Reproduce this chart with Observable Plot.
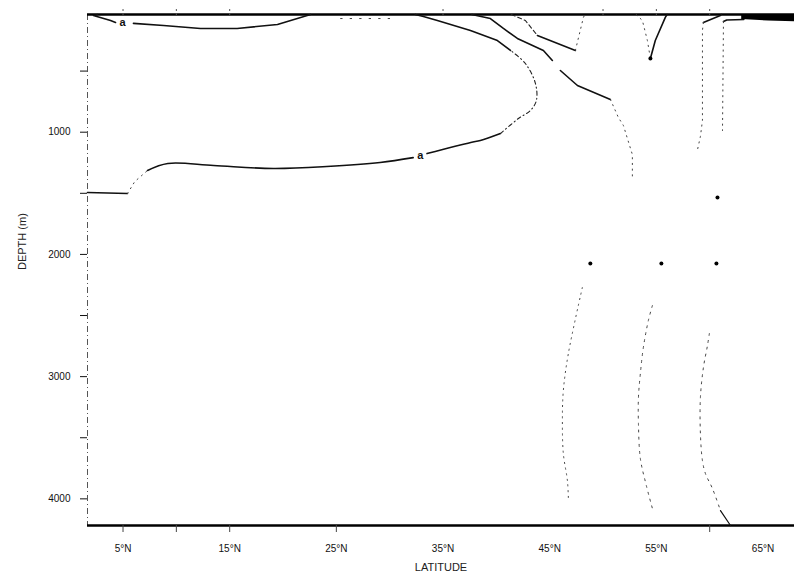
<!DOCTYPE html>
<html>
<head>
<meta charset="utf-8">
<script src="https://cdn.jsdelivr.net/npm/d3@7"></script>
<script src="https://cdn.jsdelivr.net/npm/@observablehq/plot@0.6"></script>
<style>
  html, body { margin: 0; padding: 0; background: #fff; }
  #chart svg { display: block; }
</style>
</head>
<body>
<div id="chart"></div>
<script>
// Section extent: latitude (°N) and depth (m)
const latExtent = [1.67, 67.95];
const depthExtent = [37, 4218];

// Axis ticks
const depthTicks = [500, 1000, 1500, 2000, 2500, 3000, 3500, 4000];
const latLabels = [5, 15, 25, 35, 45, 55, 65];
const latTicksBottom = [5, 10, 15, 25, 60];
const stationTicks = [5, 10, 15, 35, 50, 55, 60];

// Contours, as [latitude, depth] pairs
const surfaceA1 = [[2.6, 37], [2.23, 45], [3.83, 86], [4.3, 102]];
const surfaceA2 = [[5.98, 110], [8.8, 127], [12.26, 151], [15.7, 151], [19.48, 119], [22.58, 37]];
const surfaceDots = [[25.4, 70], [30.6, 70]];

const deepAWest = [[1.67, 1494], [5.42, 1502]];
const deepARise = [[5.42, 1502], [6.1, 1404], [7.3, 1313]];
const deepAMain = [[7.3, 1313], [9.2, 1256], [13.5, 1273], [19.1, 1297], [24.1, 1281], [29.1, 1248], [32.2, 1208]];
const deepAEast = [[33.5, 1175], [37.6, 1084], [38.5, 1068], [40.38, 1011]];
const deepABulge = [[40.38, 1011], [42.07, 888], [43.19, 822], [43.75, 741], [43.66, 601], [42.72, 438], [41.32, 331]];
const lineA = [[41.32, 331], [40.1, 250], [37.57, 168], [34.47, 86], [33.16, 53], [32.4, 37]];

const lineB1 = [[37.7, 37], [39.44, 70], [40.66, 151], [41.97, 233], [44.41, 331], [45.25, 413]];
const lineB2 = [[46.0, 495], [47.6, 618], [50.69, 732]];
const lineB3 = [[50.69, 732], [51.44, 880], [51.91, 945], [52.75, 1183], [52.75, 1363]];

const lineC1 = [[41.4, 37], [42.72, 86], [43.85, 209]];
const lineC2 = [[43.85, 209], [47.41, 331]];
const lineC3 = [[47.41, 331], [48.16, 61], [48.3, 37]];

const notchWest = [[53.1, 37], [53.69, 86], [54.16, 250], [54.44, 397]];
const notchEast = [[54.44, 397], [54.9, 250], [55.84, 61], [56.0, 37]];

const lineE = [[59.41, 102], [61.0, 45], [61.1, 37]];
const dropE = [[59.41, 102], [59.32, 168], [59.32, 741], [59.32, 904], [59.13, 1035], [58.84, 1150]];
const lineF = [[61.29, 94], [61.6, 82], [63.2, 78]];
const dropF = [[61.29, 94], [61.25, 500], [61.2, 986]];
const shelfLat = [63.0, 65.5, 67.95];
const shelfDepth = [78, 90, 97];

const deep1 = [[48.06, 2271], [46.75, 2811], [46.28, 3114], [46.19, 3359], [46.28, 3630], [46.66, 3850], [46.75, 3989]];
const deep2 = [[54.63, 2418], [54.25, 2541], [53.78, 2762], [53.5, 2975], [53.32, 3171], [53.32, 3384], [53.5, 3670], [54.06, 3891], [54.63, 4079]];
const deep3 = [[59.97, 2647], [59.79, 2746], [59.41, 2926], [59.13, 3171], [59.13, 3466], [59.32, 3687], [59.6, 3793], [60.26, 3916], [61.01, 4096]];
const deep3Foot = [[61.01, 4096], [61.95, 4218]];

const labelMarks = [[48.81, 2074], [55.47, 2074], [60.63, 2074], [60.73, 1534], [54.44, 397]];
const contourLabels = [[4.95, 102, "a"], [32.88, 1191, "a"]];

const shelf = shelfLat.map((lat, i) => ({lat, top: depthExtent[0], bottom: shelfDepth[i]}));

const X = d => d[0], Y = d => d[1];
const solid = (data, extra = {}) => Plot.line(data, {x: X, y: Y, stroke: "#111", strokeWidth: 1.6, ...extra});
const dotted = (data, extra = {}) => Plot.line(data, {x: X, y: Y, stroke: "#444", strokeWidth: 1, strokeDasharray: "1.2,4.5", ...extra});
const dashed = (data, extra = {}) => Plot.line(data, {x: X, y: Y, stroke: "#222", strokeWidth: 1.1, strokeDasharray: "4,3,1,3", ...extra});

const chart = Plot.plot({
  width: 794,
  height: 581,
  marginLeft: 87,
  marginRight: 0,
  marginTop: 14,
  marginBottom: 56,
  style: {fontFamily: "'Liberation Sans', Arial, sans-serif", fontSize: "10px", background: "#fff", color: "#111"},
  x: {domain: latExtent},
  y: {domain: depthExtent, reverse: true},
  marks: [
    // frame
    Plot.ruleX([latExtent[0]], {stroke: "#555", strokeWidth: 1, strokeDasharray: "6,3,1,3"}),
    Plot.ruleY([depthExtent[0]], {stroke: "#000", strokeWidth: 2.4}),
    Plot.ruleY([depthExtent[1]], {stroke: "#000", strokeWidth: 2.4}),

    // axes
    Plot.axisY({ticks: depthTicks, tickSize: 7, tickPadding: 10, tickFormat: d => d % 1000 ? "" : String(d), label: null, fontSize: 10}),
    Plot.axisX({ticks: latLabels, tickSize: 0, tickPadding: 19, tickFormat: d => `${d}°N`, label: null, fontSize: 10}),
    Plot.axisX({ticks: latTicksBottom, tickSize: 7, tickFormat: () => "", label: null, stroke: "#444"}),
    Plot.axisX({anchor: "top", ticks: stationTicks, tickSize: 7, tickFormat: () => "", label: null, stroke: "#555", strokeDasharray: "2,2"}),
    Plot.text(["LATITUDE"], {frameAnchor: "bottom", dy: 45, fontSize: 11, fill: "#222"}),
    Plot.text(["DEPTH (m)"], {frameAnchor: "left", dx: -65, rotate: -90, fontSize: 11, fill: "#222"}),

    // shallow contours
    solid(surfaceA1),
    solid(surfaceA2),
    dotted(surfaceDots, {strokeDasharray: "1.5,8"}),
    solid(lineA),
    solid(lineB1),
    solid(lineB2),
    dotted(lineB3),
    dashed(lineC1, {strokeDasharray: "4,3"}),
    solid(lineC2),
    dotted(lineC3),
    dotted(notchWest),
    solid(notchEast),
    solid(lineE),
    dotted(dropE),
    solid(lineF),
    dotted(dropF),
    Plot.areaY(shelf, {x: "lat", y1: "top", y2: "bottom", fill: "#000"}),

    // intermediate contour
    solid(deepAWest),
    dotted(deepARise),
    solid(deepAMain, {curve: "catmull-rom"}),
    solid(deepAEast, {curve: "catmull-rom"}),
    dashed(deepABulge, {curve: "catmull-rom"}),

    // deep contours
    dotted(deep1, {curve: "catmull-rom"}),
    dotted(deep2, {curve: "catmull-rom", strokeDasharray: "2,5"}),
    dotted(deep3, {curve: "catmull-rom", strokeDasharray: "2,5"}),
    solid(deep3Foot, {strokeWidth: 1.2}),

    Plot.dot(labelMarks, {x: X, y: Y, r: 2, fill: "#000"}),
    Plot.text(contourLabels, {x: X, y: Y, text: d => d[2], fontSize: 11, fontWeight: "bold", fill: "#111"})
  ]
});

document.getElementById("chart").append(chart);
</script>
</body>
</html>
